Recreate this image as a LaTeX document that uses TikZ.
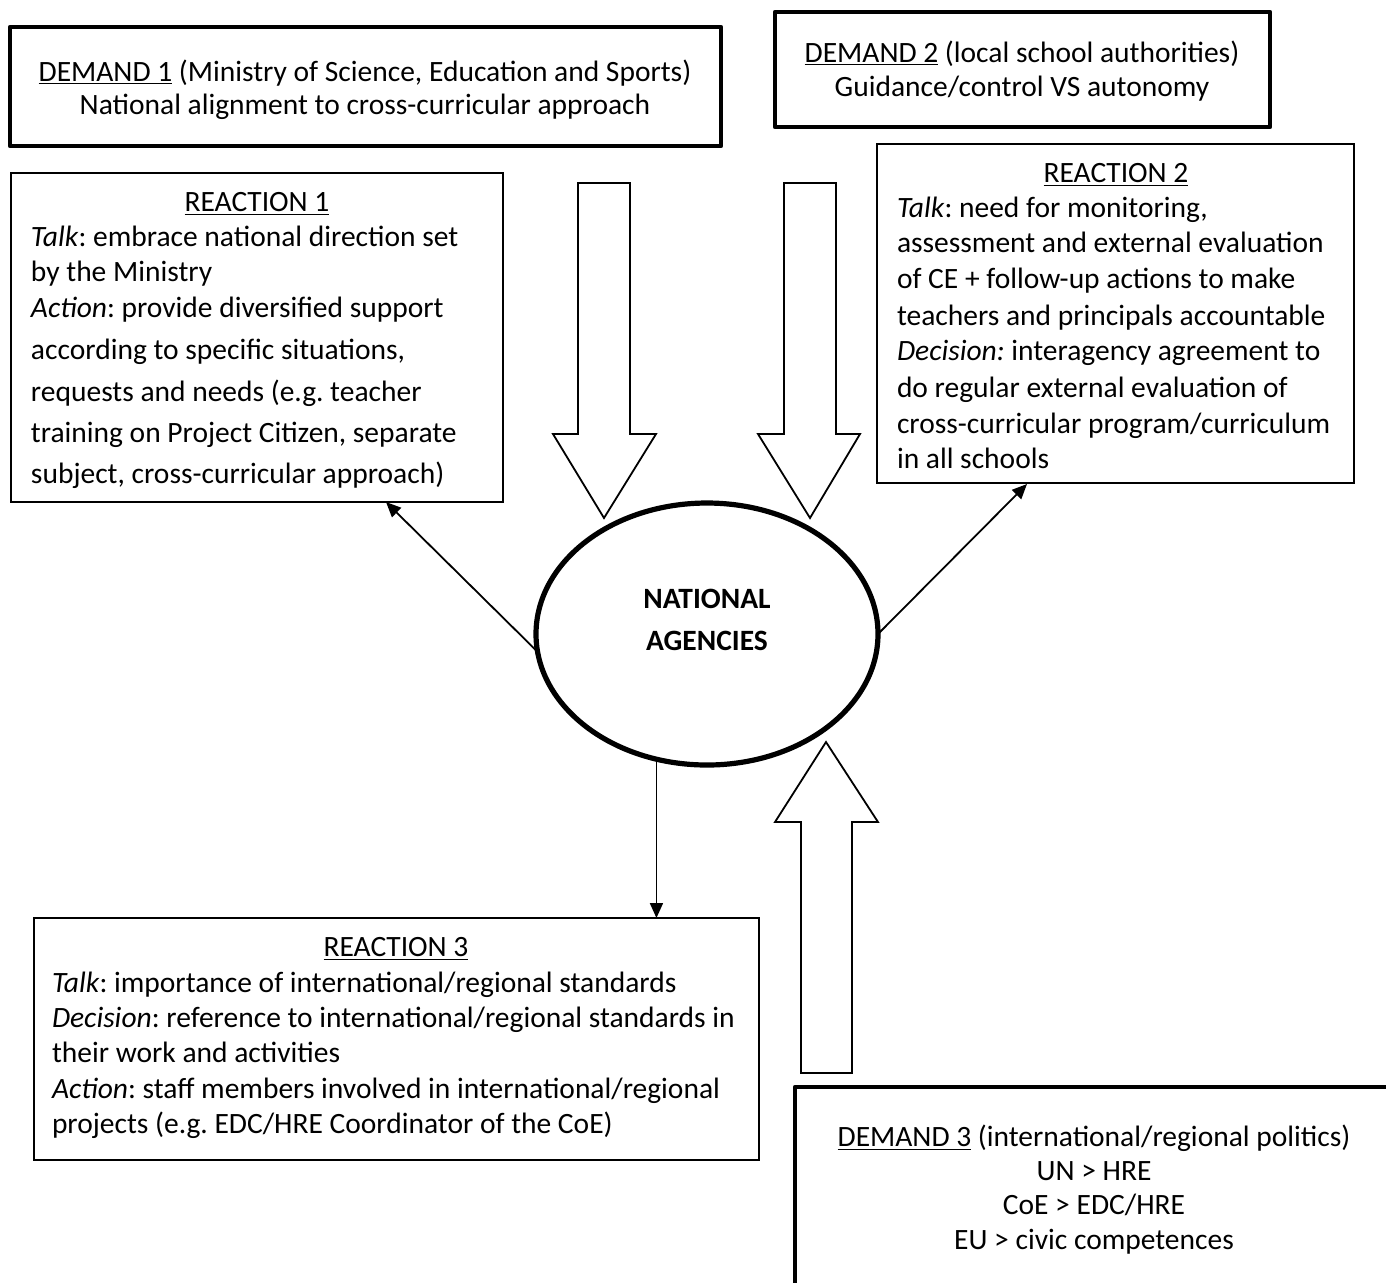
\documentclass[tikz,border=0pt]{standalone}
\usepackage{fontspec}
\setmainfont{Carlito}
\usetikzlibrary{shapes.geometric,arrows.meta,calc}
\frenchspacing

\begin{document}
\begin{tikzpicture}[x=0.5pt,y=-0.5pt,
  every node/.style={font=\fontsize{14.75}{18}\selectfont, inner sep=0pt, outer sep=0pt},
  demandbox/.style={draw, line width=2.4pt, line join=round, rectangle},
  reactbox/.style={draw, line width=0.7pt, rectangle},
  hub/.style={draw, ellipse, line width=2.6pt, minimum width=171pt, minimum height=131pt},
  fatarrow/.style={draw, line width=0.9pt, fill=white, line join=miter},
  conn/.style={line width=0.9pt, -{Triangle[length=7.5pt,width=6.5pt]}},
  tl/.style={anchor=base west},
  tc/.style={anchor=base},
]
\useasboundingbox (0,0) rectangle (1386,1282);
\clip (0,0) rectangle (1386,1282);

% demand boxes
\node[demandbox, minimum width=355.5pt, minimum height=59.5pt] (d1) at (365.5,86.5) {};
\node[demandbox, minimum width=247.5pt, minimum height=57.5pt] (d2) at (1022.5,69.5) {};
\node[demandbox, minimum width=299pt, minimum height=101.5pt] (d3) at (1094,1188.5) {};

% reaction boxes
\node[reactbox, minimum width=246pt, minimum height=164.5pt] (r1) at (257,337.5) {};
\node[reactbox, minimum width=238.5pt, minimum height=169.5pt] (r2) at (1115.5,313.5) {};
\node[reactbox, minimum width=362.5pt, minimum height=121pt] (r3) at (396.5,1039) {};

% central actor
\node[hub] (nat) at (707,634) {};
\node[tc, font=\fontsize{14.75}{18}\selectfont\bfseries] at (707,608) {NATIONAL};
\node[tc, font=\fontsize{14.75}{18}\selectfont\bfseries] at (707,650) {AGENCIES};

% demand texts
\node[tc] at (365,81) {\underline{DEMAND 1} (Ministry of Science, Education and Sports)};
\node[tc] at (365,114) {National alignment to cross-curricular approach};

\node[tc] at (1022,62) {\underline{DEMAND 2} (local school authorities)};
\node[tc] at (1022,96) {Guidance/control VS autonomy};

\node[tc] at (1094,1146) {\underline{DEMAND 3} (international/regional politics)};
\node[tc] at (1094,1180) {UN > HRE};
\node[tc] at (1094,1214) {CoE > EDC/HRE};
\node[tc] at (1094,1249) {EU > civic competences};

% reaction 1 text
\node[tc] at (257,211) {\underline{REACTION 1}};
\node[tl] at (31,246) {\textit{Talk}: embrace national direction set};
\node[tl] at (31,281) {by the Ministry};
\node[tl] at (31,317) {\textit{Action}: provide diversified support};
\node[tl] at (31,359) {according to specific situations,};
\node[tl] at (31,401) {requests and needs (e.g. teacher};
\node[tl] at (31,442) {training on Project Citizen, separate};
\node[tl] at (31,483) {subject, cross-curricular approach)};

% reaction 2 text
\node[tc] at (1116,182) {\underline{REACTION 2}};
\node[tl] at (897,217) {\textit{Talk}: need for monitoring,};
\node[tl] at (897,252) {assessment and external evaluation};
\node[tl] at (897,288) {of CE + follow-up actions to make};
\node[tl] at (897,325) {teachers and principals accountable};
\node[tl] at (897,360) {\textit{Decision:} interagency agreement to};
\node[tl] at (897,397) {do regular external evaluation of};
\node[tl] at (897,433) {cross-curricular program/curriculum};
\node[tl] at (897,468) {in all schools};

% reaction 3 text
\node[tc] at (396,956) {\underline{REACTION 3}};
\node[tl] at (52,992) {\textit{Talk}: importance of international/regional standards};
\node[tl] at (52,1027) {\textit{Decision}: reference to international/regional standards in};
\node[tl] at (52,1062) {their work and activities};
\node[tl] at (52,1098) {\textit{Action}: staff members involved in international/regional};
\node[tl] at (52,1133) {projects (e.g. EDC/HRE Coordinator of the CoE)};

% hollow block arrows carrying the demands
\draw[fatarrow] (578,183) -- (630,183) -- (630,434) -- (656,434) -- (604,518)
  -- (553,434) -- (578,434) -- cycle;
\draw[fatarrow] (784,183) -- (836,183) -- (836,434) -- (860,434) -- (810,518)
  -- (758,434) -- (784,434) -- cycle;
\draw[fatarrow] (801,1073) -- (852,1073) -- (852,822) -- (878,822) -- (826,742)
  -- (775,822) -- (801,822) -- cycle;

% reactions leaving the agencies
\coordinate (t1) at (386,502);
\coordinate (t2) at (1027,484);
\draw[conn] (nat.186) -- (t1);
\draw[conn] (nat.0) -- (t2);
\draw[conn] (nat.248) -- (nat.248 |- r3.north);
\end{tikzpicture}
\end{document}
